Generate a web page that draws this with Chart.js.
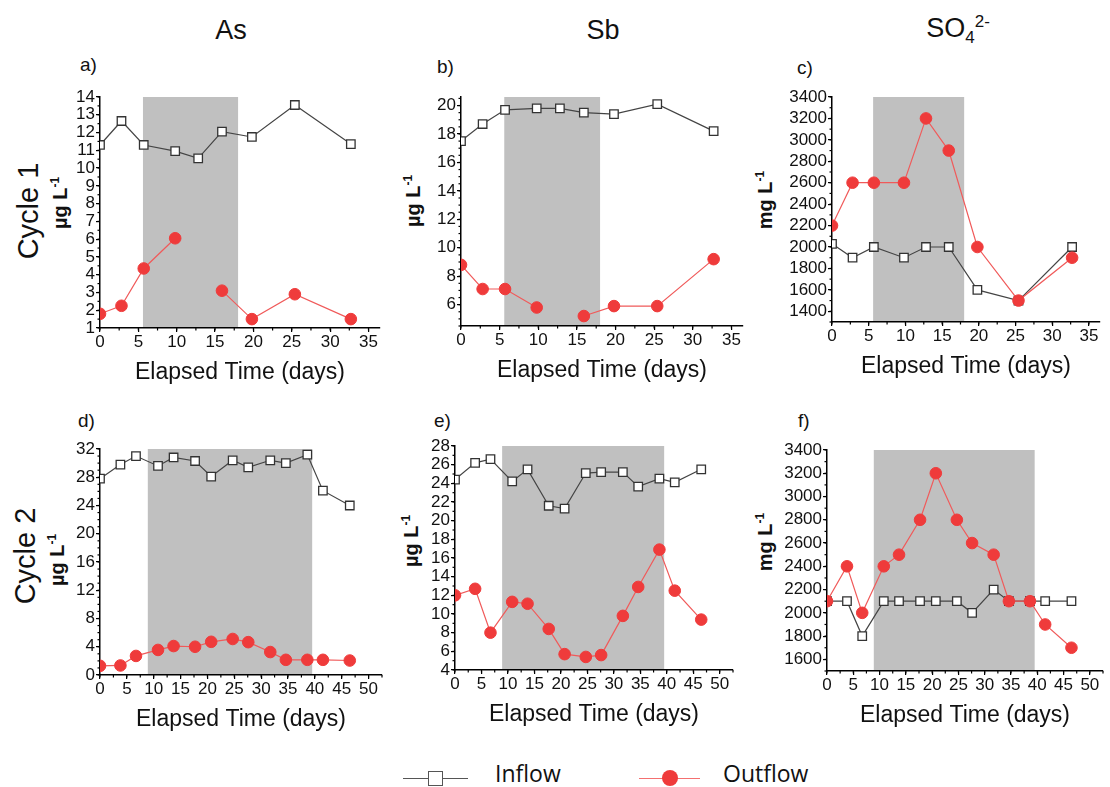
<!DOCTYPE html>
<html>
<head>
<meta charset="utf-8">
<script src="https://cdn.jsdelivr.net/npm/chart.js@4.4.0/dist/chart.umd.min.js"></script>
<style>
  body { margin: 0; background: #fff; width: 1110px; height: 787px; position: relative; overflow: hidden; font-family: "Liberation Sans", Arial, sans-serif; color: #111; }
  canvas { position: absolute; }
  .txt { position: absolute; white-space: nowrap; }
  .col { font-family: "Liberation Sans Narrow", "Liberation Sans", sans-serif; font-size: 27px; transform: translate(-50%, -50%); }
  .row { font-size: 29px; transform: translate(-50%, -50%) rotate(-90deg); }
  .ytitle { font-size: 20px; font-weight: bold; transform: translate(-50%, -50%) rotate(-90deg); }
  .ytitle sup { font-size: 12px; }
  .plab { font-size: 19px; }
  .legend { position: absolute; top: 760px; height: 27px; }
  .leg-line { position: absolute; height: 0; top: 18px; }
  .leg-text { position: absolute; top: 0; font-family: "Open Sans", sans-serif; font-size: 23px; line-height: 27px; }
</style>
</head>
<body>

<div class="txt col" style="left:231px; top:30px;">As</div>
<div class="txt col" style="left:603px; top:30px;">Sb</div>
<div class="txt col" style="left:958px; top:30px;">SO<sub style="font-size:17px">4</sub><sup style="font-size:17px">2-</sup></div>

<div class="txt row" style="left:28px; top:211px;">Cycle 1</div>
<div class="txt row" style="left:25px; top:556px;">Cycle 2</div>

<div class="txt plab" style="left:80px; top:54px;">a)</div>
<div class="txt plab" style="left:437px; top:56px;">b)</div>
<div class="txt plab" style="left:797px; top:57px;">c)</div>
<div class="txt plab" style="left:78px; top:410px;">d)</div>
<div class="txt plab" style="left:434px; top:410px;">e)</div>
<div class="txt plab" style="left:798px; top:410px;">f)</div>

<div class="txt ytitle" style="left:60px; top:203px;">µg L<sup>-1</sup></div>
<div class="txt ytitle" style="left:413px; top:201px;">µg L<sup>-1</sup></div>
<div class="txt ytitle" style="left:765px; top:200px;">mg L<sup>-1</sup></div>
<div class="txt ytitle" style="left:57px; top:560px;">µg L<sup>-1</sup></div>
<div class="txt ytitle" style="left:411px; top:541px;">µg L<sup>-1</sup></div>
<div class="txt ytitle" style="left:765px; top:542px;">mg L<sup>-1</sup></div>

<canvas id="pa"></canvas>
<canvas id="pb"></canvas>
<canvas id="pc"></canvas>
<canvas id="pd"></canvas>
<canvas id="pe"></canvas>
<canvas id="pf"></canvas>

<!-- legend -->
<div class="legend" style="left:403px; width:170px;">
  <div class="leg-line" style="left:0; width:65px; border-top:1.5px solid #555;"></div>
  <div style="position:absolute; left:25px; top:11px; width:13px; height:13px; border:1.5px solid #555; background:#fff;"></div>
  <div class="leg-text" style="left:92px;">Inflow</div>
</div>
<div class="legend" style="left:639px; width:190px;">
  <div class="leg-line" style="left:0; width:61px; border-top:1.5px solid #f47070;"></div>
  <div style="position:absolute; left:23px; top:10px; width:16px; height:16px; border-radius:50%; background:#ef3b3b;"></div>
  <div class="leg-text" style="left:84px;">Outflow</div>
</div>

<script>
// sampling days
const daysC1 = [0, 2.8, 5.7, 9.8, 12.8, 15.9, 19.8, 25.4, 32.7];
const daysC2 = [0, 3.8, 6.7, 10.8, 13.7, 17.7, 20.7, 24.7, 27.6, 31.7, 34.6, 38.6, 41.5, 46.5];

// shaded period (days)
const shadeC1 = [5.6, 18.0];
const shadeC2 = [8.9, 39.5];

// Cycle 1
const asInC1 = [11.3, 12.65, 11.3, 10.95, 10.55, 12.05, 11.75, 13.55, 11.35];
const asOutC1 = [1.8, 2.25, 4.35, 6.05, null, 3.1, 1.5, 2.9, 1.5];
const sbInC1 = [17.5, 18.7, 19.7, 19.8, 19.8, 19.5, 19.4, 20.1, 18.2];
const sbOutC1 = [8.8, 7.1, 7.1, 5.8, null, 5.2, 5.9, 5.9, 9.2];
const so4InC1 = [2030, 1900, 2000, 1900, 2000, 2000, 1600, 1500, 2000];
const so4OutC1 = [2200, 2600, 2600, 2600, 3200, 2900, 2000, 1500, 1900];

// Cycle 2
const asInC2 = [27.8, 29.8, 31.0, 29.6, 30.8, 30.3, 28.1, 30.4, 29.4, 30.4, 30.0, 31.2, 26.1, 24.0];
const asOutC2 = [1.3, 1.35, 2.7, 3.55, 4.1, 4.0, 4.7, 5.1, 4.65, 3.25, 2.15, 2.15, 2.15, 2.05];
const sbInC2 = [24.4, 26.2, 26.6, 24.2, 25.5, 21.6, 21.3, 25.1, 25.2, 25.2, 23.65, 24.5, 24.1, 25.5];
const sbOutC2 = [12.0, 12.7, 8.0, 11.3, 11.1, 8.4, 5.7, 5.4, 5.6, 9.8, 12.9, 16.9, 12.5, 9.4];
const so4InC2 = [2100, 2100, 1800, 2100, 2100, 2100, 2100, 2100, 2000, 2200, 2100, 2100, 2100, 2100];
const so4OutC2 = [2100, 2400, 2000, 2400, 2500, 2800, 3200, 2800, 2600, 2500, 2100, 2100, 1900, 1700];

const YW = 48, PT = 12, PR = 10, XH = 58;

// grey band for the shaded period
const shadePlugin = {
    id: 'shade',
    beforeDraw(chart, args, opts) {
        if (!opts.range) return;
        const { ctx, chartArea } = chart;
        const x = chart.scales.x;
        const x0 = x.getPixelForValue(opts.range[0]);
        const x1 = x.getPixelForValue(opts.range[1]);
        ctx.save();
        ctx.fillStyle = '#c0c0c0';
        ctx.fillRect(x0, chartArea.top, x1 - x0, chartArea.bottom - chartArea.top);
        ctx.restore();
    }
};

// small ticks between the labelled ones
const minorTicks = {
    id: 'minorTicks',
    afterDraw(chart) {
        const ctx = chart.ctx;
        ctx.save();
        ctx.strokeStyle = '#000';
        ctx.lineWidth = 1.2;
        ['x', 'y'].forEach(id => {
            const s = chart.scales[id];
            const m = s.options.minor;
            if (!m) return;
            const start = Math.ceil(s.min / m - 1e-9) * m;
            for (let v = start; v <= s.max + 1e-9; v += m) {
                const p = s.getPixelForValue(v);
                ctx.beginPath();
                if (id === 'x') {
                    ctx.moveTo(p, s.top);
                    ctx.lineTo(p, s.top + 2.5);
                } else {
                    ctx.moveTo(s.right, p);
                    ctx.lineTo(s.right - 2.5, p);
                }
                ctx.stroke();
            }
        });
        ctx.restore();
    }
};

// labelled ticks only at whole multiples of the step
function stepTicks(step) {
    return scale => {
        const ticks = [];
        const first = Math.ceil(scale.min / step - 1e-9);
        for (let k = first; k * step <= scale.max + 1e-9; k++) {
            ticks.push({ value: Math.round(k * step * 1000) / 1000 });
        }
        scale.ticks = ticks;
    };
}

function makePanel(id, box, days, inflow, outflow, shade, xMax, yMin, yMax, yStep, yMinor) {
    const cv = document.getElementById(id);
    cv.width = YW + box.w + PR;
    cv.height = PT + box.h + XH;
    cv.style.left = (box.left - YW) + 'px';
    cv.style.top = (box.top - PT) + 'px';

    const tickFont = { family: 'Liberation Sans', size: 17 };
    new Chart(cv, {
        type: 'line',
        data: {
            labels: days,
            datasets: [{
                label: 'Inflow',
                data: days.map((d, i) => ({ x: d, y: inflow[i] })),
                borderColor: '#444',
                borderWidth: 1.2,
                pointStyle: 'rect',
                pointRadius: 6,
                pointBackgroundColor: '#fff',
                pointBorderColor: '#333',
                pointBorderWidth: 1.3,
                tension: 0,
                order: 1
            }, {
                label: 'Outflow',
                data: days.map((d, i) => ({ x: d, y: outflow[i] })),
                borderColor: '#f05a5a',
                borderWidth: 1.2,
                pointStyle: 'circle',
                pointRadius: 5.8,
                pointBackgroundColor: '#ef3b3b',
                pointBorderColor: '#ef3b3b',
                pointBorderWidth: 1,
                tension: 0,
                order: 0
            }]
        },
        options: {
            responsive: false,
            animation: false,
            devicePixelRatio: 1,
            layout: { padding: { top: PT, right: PR, left: 0, bottom: 0 } },
            plugins: {
                legend: { display: false },
                tooltip: { enabled: false },
                shade: { range: shade }
            },
            scales: {
                x: {
                    type: 'linear',
                    min: 0,
                    max: xMax,
                    minor: 2.5,
                    afterFit: s => { s.height = XH; },
                    afterBuildTicks: stepTicks(5),
                    grid: { drawOnChartArea: false, drawTicks: true, tickLength: 4, color: '#000', lineWidth: 1.2 },
                    border: { display: true, color: '#000', width: 1.5 },
                    ticks: { autoSkip: false, maxRotation: 0, padding: 0, color: '#111', font: tickFont, callback: v => String(v) },
                    title: {
                        display: true,
                        text: 'Elapsed Time (days)',
                        color: '#111',
                        font: { family: 'Liberation Sans', size: 23 },
                        padding: 0
                    }
                },
                y: {
                    min: yMin,
                    max: yMax,
                    minor: yMinor,
                    afterFit: s => { s.width = YW; },
                    afterBuildTicks: stepTicks(yStep),
                    grid: { drawOnChartArea: false, drawTicks: true, tickLength: 4, color: '#000', lineWidth: 1.2 },
                    border: { display: true, color: '#000', width: 1.5 },
                    ticks: { autoSkip: false, padding: 1, color: '#111', font: tickFont, callback: v => String(v) }
                }
            }
        },
        plugins: [shadePlugin, minorTicks]
    });
}

window.addEventListener('DOMContentLoaded', () => {
    makePanel('pa', { left: 100, top: 97, w: 280, h: 231 }, daysC1, asInC1, asOutC1, shadeC1, 36.5, 1, 14, 1, 0.5);
    makePanel('pb', { left: 461, top: 97, w: 282, h: 229 }, daysC1, sbInC1, sbOutC1, shadeC1, 36.5, 4.5, 20.6, 2, 0.5);
    makePanel('pc', { left: 832, top: 97, w: 268, h: 225 }, daysC1, so4InC1, so4OutC1, shadeC1, 36.5, 1300, 3400, 200, 100);
    makePanel('pd', { left: 100, top: 449, w: 282, h: 226 }, daysC2, asInC2, asOutC2, shadeC2, 52.5, 0, 32, 4, 1);
    makePanel('pe', { left: 455, top: 446, w: 278, h: 224 }, daysC2, sbInC2, sbOutC2, shadeC2, 52.5, 4, 28, 2, 1);
    makePanel('pf', { left: 827, top: 450, w: 276, h: 221 }, daysC2, so4InC2, so4OutC2, shadeC2, 52.5, 1500, 3400, 200, 100);
});
</script>
</body>
</html>
